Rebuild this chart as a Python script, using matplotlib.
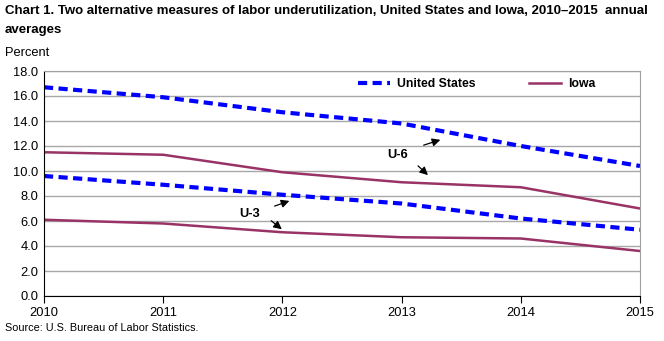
import matplotlib
matplotlib.use('Agg')
import matplotlib.pyplot as plt

plt.rcParams['font.family'] = ['Liberation Sans', 'DejaVu Sans']

years = [2010, 2011, 2012, 2013, 2014, 2015]
us_u6 = [16.7, 15.9, 14.7, 13.8, 12.0, 10.4]
us_u3 = [9.6, 8.9, 8.1, 7.4, 6.2, 5.3]
iowa_u6 = [11.5, 11.3, 9.9, 9.1, 8.7, 7.0]
iowa_u3 = [6.1, 5.8, 5.1, 4.7, 4.6, 3.6]
yticks = [0, 2, 4, 6, 8, 10, 12, 14, 16, 18]

blue = '#0000ff'
maroon = '#993366'

fig = plt.figure(figsize=(6.64, 3.41), dpi=100)
ax = fig.add_axes([44/664, 1 - 296/341, 596/664, 225/341])

ax.plot(years, us_u6, color=blue, lw=3, dashes=(2.2, 1.3), label='United States')
ax.plot(years, iowa_u6, color=maroon, lw=1.8, label='Iowa')
ax.plot(years, us_u3, color=blue, lw=3, dashes=(2.2, 1.3))
ax.plot(years, iowa_u3, color=maroon, lw=1.8)

ax.set_xlim(2010, 2015)
ax.set_ylim(0, 18)
ax.set_xticks(years)
ax.set_xticklabels([str(y) for y in years], fontsize=9.3)
ax.set_yticks(yticks)
ax.set_yticklabels(['%.1f' % v for v in yticks], fontsize=9.3)
ax.grid(axis='y', color='#a8a8a8', lw=1)
ax.set_axisbelow(True)
ax.tick_params(axis='x', length=5, direction='out', pad=3)
ax.tick_params(axis='y', length=0, pad=4)
for s in ['top', 'right']:
    ax.spines[s].set_color('#a0a0a0')
for s in ['left', 'bottom']:
    ax.spines[s].set_color('black')


def px(x, y):
    return (2010 + (x - 44) / 119.2, (296 - y) / 12.5)


arrow = dict(arrowstyle='-|>', color='black', lw=0.9, mutation_scale=12)
ax.text(*px(398, 155), 'U-6', fontsize=9.3, fontweight='bold', ha='center', va='center')
ax.annotate('', xy=px(443, 139), xytext=px(421, 146), arrowprops=arrow)
ax.annotate('', xy=px(430, 177), xytext=px(416, 164), arrowprops=arrow)
ax.text(*px(250, 214), 'U-3', fontsize=9.3, fontweight='bold', ha='center', va='center')
ax.annotate('', xy=px(292, 200), xytext=px(272, 207), arrowprops=arrow)
ax.annotate('', xy=px(284, 231), xytext=px(269, 219), arrowprops=arrow)

leg = ax.legend(loc='upper left', bbox_to_anchor=((358 - 44) / 596, (296 - 78) / 225), ncol=2,
                frameon=False, fontsize=8.8, handlelength=2.6, columnspacing=4.4,
                handletextpad=0.6, borderpad=0, borderaxespad=0)
for t in leg.get_texts():
    t.set_fontweight('bold')

fig.text(5/664, 1 - 11/341, 'Chart 1. Two alternative measures of labor underutilization, United States and Iowa, 2010\u20132015  annual',
         fontsize=9.5, fontweight='bold', ha='left', va='center')
fig.text(5/664, 1 - 30/341, 'averages', fontsize=9.5, fontweight='bold', ha='left', va='center')
fig.text(5/664, 1 - 53/341, 'Percent', fontsize=9.3, ha='left', va='center')
fig.text(5/664, 1 - 328/341, 'Source: U.S. Bureau of Labor Statistics.', fontsize=7.8, ha='left', va='center')

fig.savefig('out.png', dpi=100)
